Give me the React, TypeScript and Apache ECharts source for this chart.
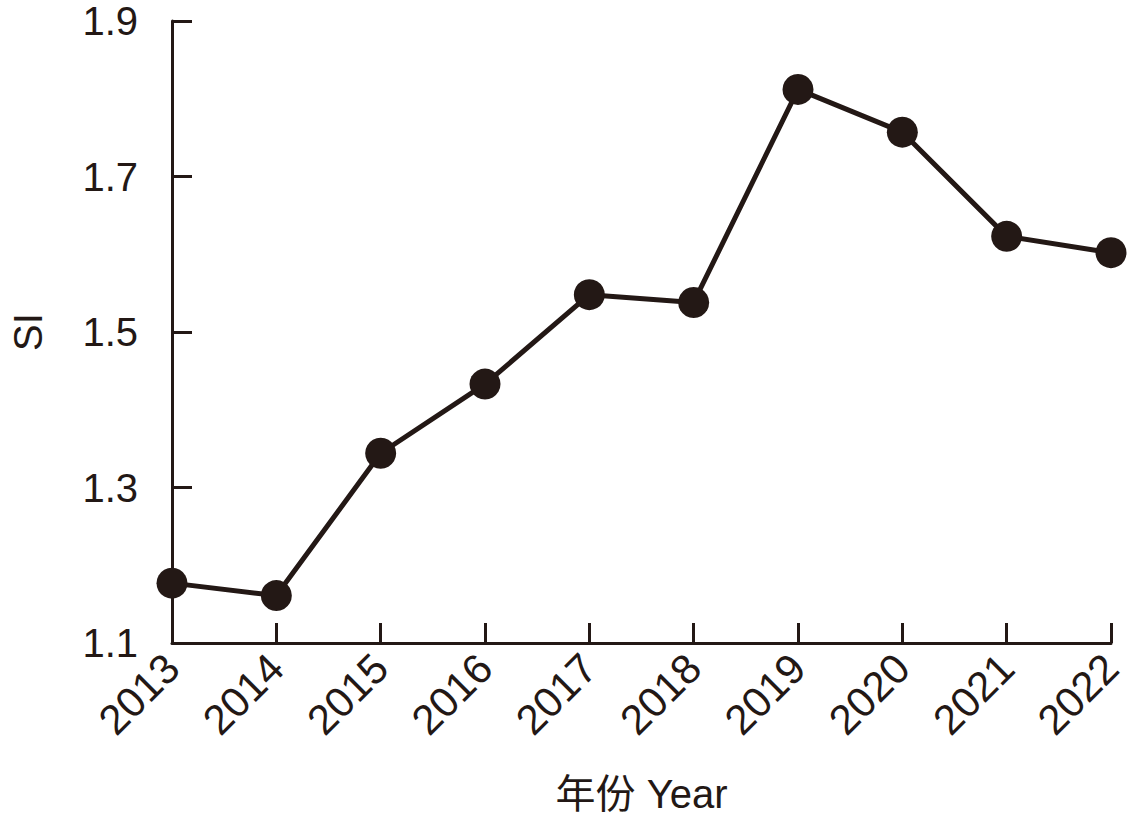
import React, { useEffect, useRef } from "react";
import * as echarts from "echarts";

const years = ["2013", "2014", "2015", "2016", "2017", "2018", "2019", "2020", "2021", "2022"];
const siValues = [1.177, 1.161, 1.344, 1.433, 1.548, 1.538, 1.812, 1.757, 1.623, 1.602];

const INK = "#231815";
const FONT = "'Liberation Sans', Arial, 'Noto Sans CJK SC', sans-serif";

export default function App() {
  const ref = useRef<HTMLDivElement>(null);
  useEffect(() => {
    if (!ref.current) return;
    const chart = echarts.init(ref.current, undefined, { renderer: "svg" });
    chart.setOption({
      animation: false,
      backgroundColor: "#ffffff",
      grid: { left: 167, right: 23, top: 21, bottom: 181, containLabel: false },
      xAxis: {
        type: "category",
        data: years,
        boundaryGap: false,
        name: "年份 Year",
        nameLocation: "middle",
        nameGap: 131,
        nameTextStyle: { color: INK, fontSize: 40, fontFamily: FONT },
        axisLine: { lineStyle: { color: INK, width: 3 } },
        axisTick: { inside: true, length: 20, lineStyle: { color: INK, width: 3 }, alignWithLabel: true },
        axisLabel: { rotate: 45, color: INK, fontSize: 42, fontFamily: FONT, margin: 18, interval: 0 },
        splitLine: { show: false },
      },
      yAxis: {
        type: "value",
        min: 1.1,
        max: 1.9,
        interval: 0.2,
        name: "SI",
        nameLocation: "middle",
        nameGap: 124,
        nameTextStyle: { color: INK, fontSize: 40, fontFamily: FONT },
        axisLine: { show: true, lineStyle: { color: INK, width: 3 } },
        axisTick: { show: true, inside: true, length: 20, lineStyle: { color: INK, width: 3 } },
        axisLabel: {
          color: INK,
          fontSize: 40,
          fontFamily: FONT,
          margin: 34,
          formatter: (v: number) => v.toFixed(1),
        },
        splitLine: { show: false },
      },
      series: [
        {
          type: "line",
          data: siValues,
          symbol: "circle",
          symbolSize: 31,
          lineStyle: { color: INK, width: 5 },
          itemStyle: { color: INK },
        },
      ],
    });
    return () => chart.dispose();
  }, []);
  return (
    <div
      ref={ref}
      style={{ position: "fixed", left: 0, top: 0, width: 1134, height: 824, background: "#fff" }}
    />
  );
}
